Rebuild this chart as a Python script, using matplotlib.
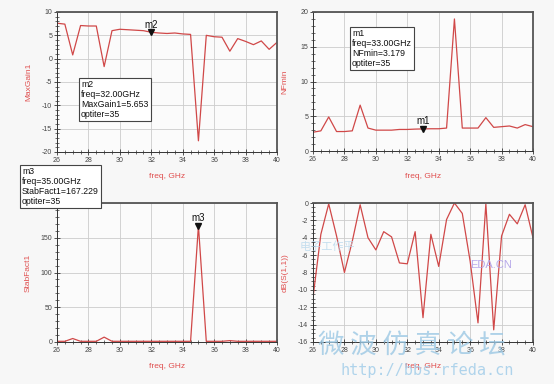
import matplotlib
matplotlib.use('Agg')
import matplotlib.pyplot as plt
from matplotlib.ticker import MultipleLocator
import numpy as np

plt.rcParams.update({
    'font.family': ['Liberation Sans', 'DejaVu Sans'],
    'font.size': 6,
    'xtick.labelsize': 5,
    'ytick.labelsize': 5,
    'axes.unicode_minus': False,
})

freq = np.arange(26.0, 40.01, 0.5)

max_gain = [7.6, 7.4, 0.8, 7.1, 7.0, 7.0, -1.7, 6.0, 6.3, 6.2, 6.1, 6.0, 5.653, 5.5,
            5.4, 5.5, 5.3, 5.2, -17.6, 5.0, 4.7, 4.6, 1.6, 4.3, 3.7, 3.0, 3.8, 2.0, 3.5]
nf_min = [2.7, 2.9, 4.9, 2.8, 2.8, 2.9, 6.6, 3.3, 3.0, 3.0, 3.0, 3.1, 3.1, 3.15,
          3.179, 3.2, 3.2, 3.3, 19.0, 3.3, 3.3, 3.3, 4.8, 3.4, 3.5, 3.6, 3.3, 3.8, 3.5]
stab_fact = [1.0, 1.0, 5.0, 1.0, 1.0, 1.0, 7.0, 1.0, 1.0, 1.0, 1.0, 1.0, 1.0, 1.0,
             1.0, 1.0, 1.0, 1.0, 167.229, 1.0, 1.0, 1.0, 2.0, 1.0, 1.0, 1.0, 1.0, 1.0, 1.0]
s11_db = [-10.9, -3.6, -0.1, -3.8, -8.0, -4.4, -0.2, -4.0, -5.4, -3.3, -3.9, -6.9, -7.0, -3.3,
          -13.2, -3.6, -7.3, -1.9, 0.0, -1.2, -6.7, -13.8, -0.1, -14.6, -3.8, -1.3, -2.4, -0.2, -4.0]

line_c = '#d04848'
label_c = '#e05050'

fig = plt.figure(figsize=(5.54, 3.84), dpi=100, facecolor='#f7f7f7')

W, H = 554.0, 384.0


def make_ax(x0, y0, x1, y1):
    return fig.add_axes([x0 / W, 1 - y1 / H, (x1 - x0) / W, (y1 - y0) / H])


def style(ax, ylim, ymaj, ymin, ylabel, xlabel_y, ylabel_x):
    ax.set_facecolor('#fbfbfb')
    ax.set_xlim(26, 40)
    ax.set_ylim(*ylim)
    ax.xaxis.set_major_locator(MultipleLocator(2))
    ax.xaxis.set_minor_locator(MultipleLocator(0.5))
    ax.yaxis.set_major_locator(MultipleLocator(ymaj))
    ax.yaxis.set_minor_locator(MultipleLocator(ymin))
    ax.tick_params(which='both', direction='inout', color='#333333', labelcolor='#444444', pad=1.5)
    ax.tick_params(which='major', length=4, width=0.6)
    ax.tick_params(which='minor', length=2.5, width=0.5)
    ax.grid(which='major', color='#cccccc', linewidth=0.6)
    for s in ['left', 'bottom']:
        ax.spines[s].set_color('#333333')
        ax.spines[s].set_linewidth(0.7)
    for s in ['top', 'right']:
        ax.spines[s].set_color('#555555')
        ax.spines[s].set_linewidth(1.3)
    fig.text(ax.get_position().x0 + ax.get_position().width / 2, 1 - xlabel_y / H,
             'freq, GHz', color=label_c, ha='center', va='center', fontsize=6)
    fig.text(ylabel_x / W, ax.get_position().y0 + ax.get_position().height / 2, ylabel,
             color=label_c, rotation=90, ha='center', va='center', fontsize=6)


def box(x, y, lines):
    fig.text(x / W, 1 - y / H, '\n'.join(lines), ha='left', va='top', fontsize=6.3,
             linespacing=1.15, color='#111111', zorder=10,
             bbox=dict(boxstyle='square,pad=0.25', facecolor='white', edgecolor='#444444', linewidth=0.8))


def marker(ax, x, y, name, dy):
    ax.plot([x], [y], marker='v', color='#111111', markersize=4, zorder=5)
    ax.annotate(name, (x, y), xytext=(0, dy), textcoords='offset points',
                ha='center', va='bottom', fontsize=7, color='#111111')


# MaxGain1
ax1 = make_ax(57, 12, 277, 152)
ax1.plot(freq, max_gain, color=line_c, linewidth=0.9)
style(ax1, (-20, 10), 5, 1, 'MaxGain1', 177, 29)
marker(ax1, 32, max_gain[12], 'm2', 2)

# NFmin
ax2 = make_ax(313, 12, 533, 151)
ax2.plot(freq, nf_min, color=line_c, linewidth=0.9)
style(ax2, (0, 20), 5, 1, 'NFmin', 177, 285)
marker(ax2, 33, nf_min[14], 'm1', 2)

# StabFact1
ax3 = make_ax(57, 203, 277, 342)
ax3.plot(freq, stab_fact, color=line_c, linewidth=0.9)
style(ax3, (0, 200), 50, 10, 'StabFact1', 367, 28)
ax3.set_yticks([0, 50, 100, 150, 200])
marker(ax3, 35, stab_fact[18], 'm3', 2)

# dB(S(1,1))
ax4 = make_ax(313, 203, 533, 342)
ax4.plot(freq, s11_db, color=line_c, linewidth=0.9)
style(ax4, (-16, 0), 2, 0.5, 'dB(S(1,1))', 367, 285)

box(81, 80, ['m2', 'freq=32.00GHz', 'MaxGain1=5.653', 'optiter=35'])
box(352, 29, ['m1', 'freq=33.00GHz', 'NFmin=3.179', 'optiter=35'])
box(22, 167, ['m3', 'freq=35.00GHz', 'StabFact1=167.229', 'optiter=35'])

# forum watermark
wm = ['Noto Sans CJK SC', 'DejaVu Sans']
fig.text(300 / W, 1 - 250 / H, '电子工作平', fontsize=8, color='#b8d8ec', family=wm, alpha=0.8)
fig.text(470 / W, 1 - 268 / H, 'EDA.CN', fontsize=8, color='#b0a0e8', alpha=0.9)
fig.text(318 / W, 1 - 346 / H, '微 波 仿 真 论 坛', fontsize=19, color='#9cc8e4',
         family=wm, alpha=0.8, va='center')
fig.text(340 / W, 1 - 370 / H, 'http://bbs.rfeda.cn', fontsize=11, color='#a8d0ea',
         family=['DejaVu Sans Mono'], alpha=0.9, va='center')

fig.savefig('out.png', dpi=100, facecolor=fig.get_facecolor())
